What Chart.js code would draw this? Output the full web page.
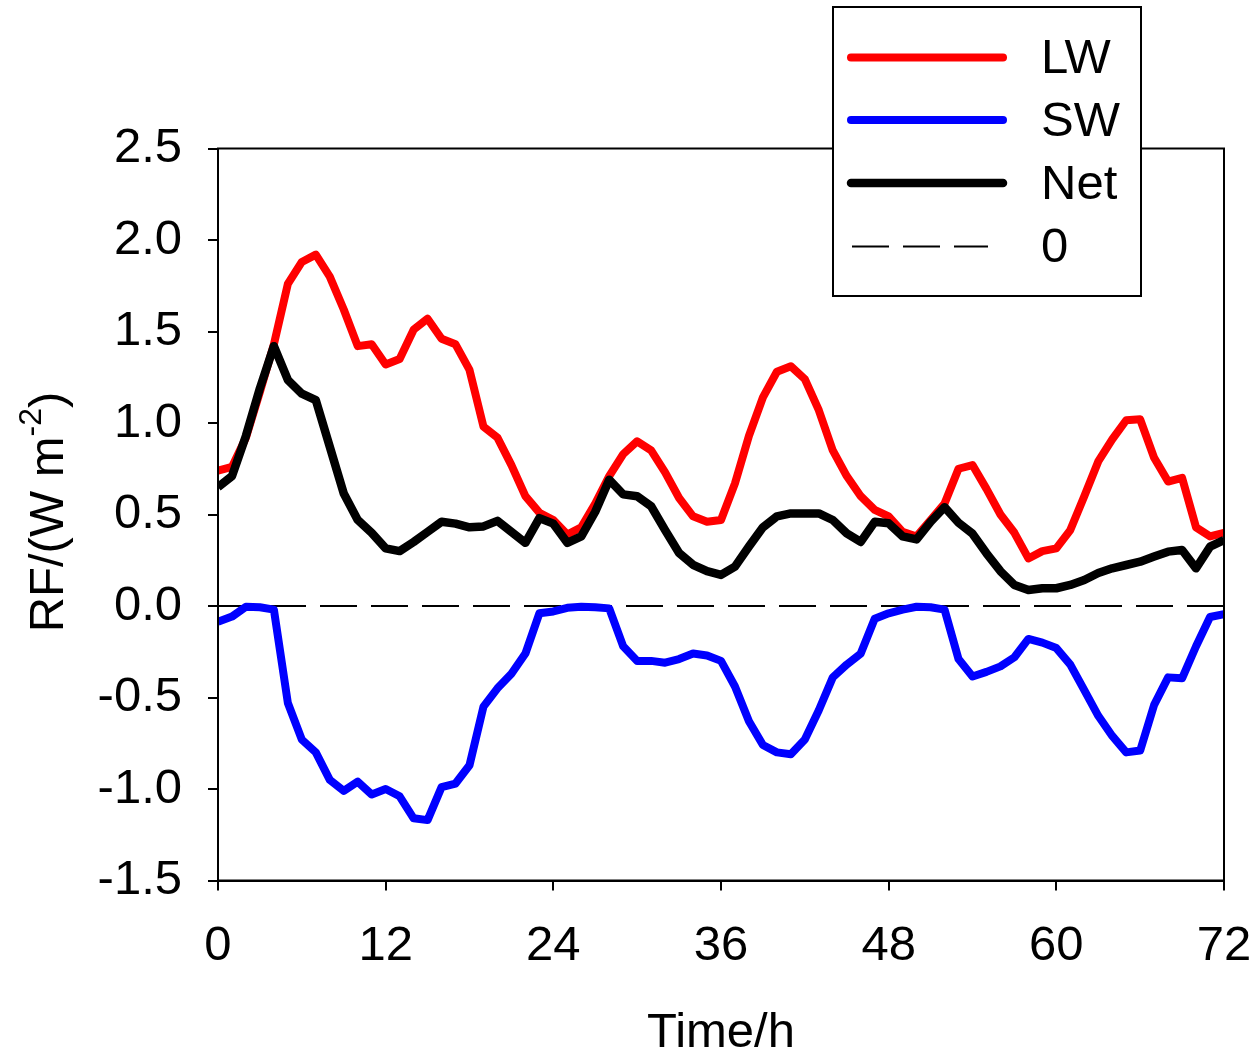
<!DOCTYPE html>
<html lang="en">
<head>
<meta charset="UTF-8">
<title>RF time series</title>
<style>
  body { margin: 0; background: #fff; }
  #wrap { width: 1251px; height: 1054px; }
</style>
</head>
<body>
<div id="wrap"><canvas id="rfChart" width="1251" height="1054"></canvas></div>

<script src="https://cdn.jsdelivr.net/npm/chart.js"></script>
<script>
// hours 0..72
const hours = [0,1,2,3,4,5,6,7,8,9,10,11,12,13,14,15,16,17,18,19,20,21,22,23,24,
  25,26,27,28,29,30,31,32,33,34,35,36,37,38,39,40,41,42,43,44,45,46,47,48,
  49,50,51,52,53,54,55,56,57,58,59,60,61,62,63,64,65,66,67,68,69,70,71,72];

const lw = [0.74,0.76,0.92,1.17,1.43,1.76,1.88,1.92,1.80,1.62,1.42,1.43,1.32,1.35,1.51,1.57,1.46,1.43,1.29,0.98,0.92,
  0.77,0.60,0.51,0.47,0.39,0.43,0.56,0.71,0.83,0.90,0.85,0.73,0.59,0.49,0.46,0.47,0.67,0.93,1.14,1.28,1.31,1.24,
  1.07,0.85,0.71,0.60,0.525,0.49,0.405,0.38,0.47,0.56,0.75,0.77,0.64,0.50,0.40,0.26,0.30,0.315,0.415,0.60,0.79,
  0.91,1.015,1.02,0.81,0.68,0.70,0.43,0.38,0.40];

const sw = [-0.086,-0.058,-0.004,-0.007,-0.02,-0.53,-0.73,-0.80,-0.95,-1.01,-0.96,-1.03,-1.00,-1.04,-1.16,-1.17,
  -0.99,-0.97,-0.87,-0.55,-0.45,-0.37,-0.26,-0.04,-0.03,-0.01,-0.004,-0.007,-0.013,-0.22,-0.30,-0.30,-0.31,-0.29,
  -0.26,-0.27,-0.30,-0.44,-0.63,-0.76,-0.80,-0.81,-0.73,-0.57,-0.39,-0.32,-0.26,-0.07,-0.04,-0.02,-0.004,-0.007,
  -0.02,-0.29,-0.385,-0.36,-0.33,-0.28,-0.18,-0.20,-0.23,-0.32,-0.46,-0.60,-0.71,-0.80,-0.79,-0.54,-0.39,-0.395,
  -0.22,-0.06,-0.045];

const net = [0.65,0.71,0.93,1.19,1.42,1.235,1.16,1.125,0.87,0.615,0.47,0.40,0.315,0.30,0.35,0.405,0.46,0.45,0.43,
  0.435,0.465,0.405,0.345,0.48,0.45,0.345,0.38,0.515,0.69,0.61,0.60,0.545,0.415,0.29,0.225,0.19,0.17,0.215,0.325,
  0.43,0.49,0.506,0.506,0.506,0.47,0.397,0.35,0.46,0.452,0.38,0.364,0.46,0.54,0.455,0.395,0.288,0.19,0.115,0.087,
  0.097,0.097,0.115,0.142,0.18,0.206,0.224,0.242,0.27,0.297,0.306,0.206,0.324,0.36];

const zeroHours = [0, 72];
const zeroVals = [0, 0];

const seriesNames = ['LW', 'SW', 'Net', '0'];
const xTicks = [0, 12, 24, 36, 48, 60, 72];
const yTicks = [-1.5, -1.0, -0.5, 0.0, 0.5, 1.0, 1.5, 2.0, 2.5];

const FONT = '"Liberation Sans", Arial, sans-serif';

function pts(xs, ys) {
  return xs.map((x, i) => ({ x: x, y: ys[i] }));
}

// frame around plot, legend box, axis titles (y title has a superscript)
const extras = {
  id: 'extras',
  afterDraw(chart) {
    const ctx = chart.ctx;
    const a = chart.chartArea;
    ctx.save();
    ctx.strokeStyle = '#000';
    ctx.lineWidth = 2;
    ctx.strokeRect(a.left, a.top, a.right - a.left, a.bottom - a.top);

    // legend
    const bx = 833, by = 7, bw = 308, bh = 289;
    ctx.fillStyle = '#fff';
    ctx.fillRect(bx, by, bw, bh);
    ctx.lineWidth = 2;
    ctx.strokeRect(bx, by, bw, bh);
    const rows = [57.5, 120, 183, 246.5];
    chart.data.datasets.forEach((ds, i) => {
      const y = rows[i];
      ctx.beginPath();
      ctx.strokeStyle = ds.borderColor;
      ctx.lineWidth = ds.borderWidth;
      ctx.lineCap = ds.borderDash ? 'butt' : 'round';
      ctx.setLineDash(ds.borderDash || []);
      if (ds.borderDash) {
        ctx.moveTo(852, y);
        ctx.lineTo(988, y);
      } else {
        ctx.moveTo(851, y);
        ctx.lineTo(1003, y);
      }
      ctx.stroke();
      ctx.setLineDash([]);
      ctx.fillStyle = '#000';
      ctx.font = '49px ' + FONT;
      ctx.textBaseline = 'middle';
      ctx.textAlign = 'left';
      ctx.fillText(ds.label, 1041, y + 2);
    });

    // x title
    ctx.fillStyle = '#000';
    ctx.font = '49px ' + FONT;
    ctx.textAlign = 'center';
    ctx.textBaseline = 'alphabetic';
    ctx.fillText('Time/h', (a.left + a.right) / 2, 1047);

    // y title
    ctx.translate(63, 512);
    ctx.rotate(-Math.PI / 2);
    ctx.textAlign = 'left';
    const big = '49px ' + FONT, small = '32px ' + FONT;
    ctx.font = big;
    const w1 = ctx.measureText('RF/(W m').width;
    const w3 = ctx.measureText(')').width;
    ctx.font = small;
    const w2 = ctx.measureText('-2').width;
    let x = -(w1 + w2 + w3) / 2;
    ctx.font = big;
    ctx.fillText('RF/(W m', x, 0);
    x += w1;
    ctx.font = small;
    ctx.fillText('-2', x, -22);
    x += w2;
    ctx.font = big;
    ctx.fillText(')', x, 0);
    ctx.restore();
  }
};

const ctx = document.getElementById('rfChart').getContext('2d');
new Chart(ctx, {
  type: 'line',
  data: {
    datasets: [
      { label: seriesNames[0], data: pts(hours, lw), borderColor: '#ff0000', borderWidth: 8, order: 2 },
      { label: seriesNames[1], data: pts(hours, sw), borderColor: '#0000ff', borderWidth: 8, order: 1 },
      { label: seriesNames[2], data: pts(hours, net), borderColor: '#000000', borderWidth: 8.5, order: 0 },
      { label: seriesNames[3], data: pts(zeroHours, zeroVals), borderColor: '#000000', borderWidth: 2,
        borderDash: [37, 14], order: 3 }
    ]
  },
  options: {
    responsive: false,
    animation: false,
    devicePixelRatio: 1,
    layout: { padding: { left: 0, top: 148.5, right: 27, bottom: 0 } },
    elements: {
      point: { radius: 0 },
      line: { tension: 0, borderJoinStyle: 'round', fill: false }
    },
    plugins: {
      legend: { display: false },
      tooltip: { enabled: false }
    },
    scales: {
      x: {
        type: 'linear',
        min: 0,
        max: 72,
        afterFit(s) {
          s.height = 1054 - 880.5;
          s.paddingLeft = 0;
          s.paddingRight = 0;
        },
        afterBuildTicks(s) { s.ticks = xTicks.map(v => ({ value: v })); },
        ticks: {
          color: '#000',
          font: { family: FONT, size: 49 },
          padding: 27,
          maxRotation: 0,
          callback: v => String(v)
        },
        grid: { drawOnChartArea: false, drawTicks: true, tickLength: 10, color: '#000', lineWidth: 2 },
        border: { display: true, color: '#000', width: 2 }
      },
      y: {
        type: 'linear',
        min: -1.5,
        max: 2.5,
        afterFit(s) {
          s.width = 218;
          s.paddingTop = 0;
          s.paddingBottom = 0;
        },
        afterBuildTicks(s) { s.ticks = yTicks.map(v => ({ value: v })); },
        ticks: {
          color: '#000',
          font: { family: FONT, size: 49 },
          padding: 26,
          callback: v => Number(v).toFixed(1)
        },
        grid: { drawOnChartArea: false, drawTicks: true, tickLength: 10, color: '#000', lineWidth: 2 },
        border: { display: true, color: '#000', width: 2 }
      }
    }
  },
  plugins: [extras]
});
</script>
</body>
</html>
